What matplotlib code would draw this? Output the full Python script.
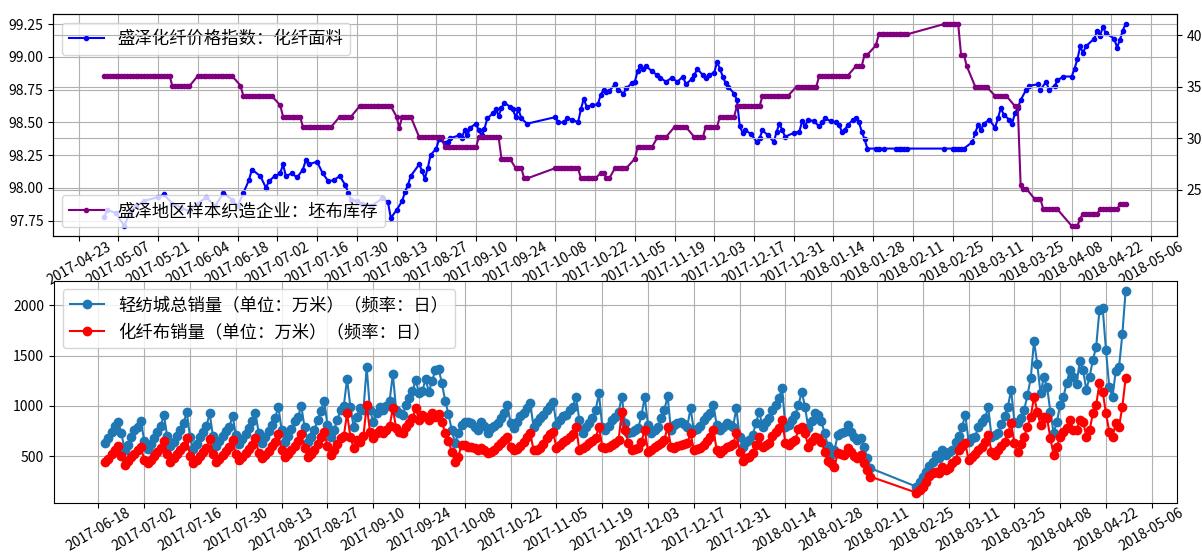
import numpy as np
import pandas as pd
import matplotlib
matplotlib.use("Agg")
import matplotlib.pyplot as plt
import matplotlib.dates as mdates

CJK = ["Noto Sans CJK SC", "DejaVu Sans"]
plt.rcParams["font.family"] = CJK
plt.rcParams["axes.unicode_minus"] = False

# ---------------- 盛泽化纤价格指数：化纤面料 ----------------
price_dates = [
    "2017-05-02", "2017-05-03", "2017-05-06", "2017-05-09", "2017-05-11", "2017-05-13", "2017-05-16",
    "2017-05-21", "2017-05-23", "2017-05-26", "2017-05-29", "2017-06-01", "2017-06-04", "2017-06-07",
    "2017-06-10", "2017-06-13", "2017-06-16", "2017-06-18", "2017-06-20", "2017-06-22", "2017-06-23",
    "2017-06-26", "2017-06-28", "2017-06-29", "2017-07-01", "2017-07-03", "2017-07-04", "2017-07-05",
    "2017-07-07", "2017-07-09", "2017-07-11", "2017-07-12", "2017-07-13", "2017-07-16", "2017-07-18",
    "2017-07-20", "2017-07-22", "2017-07-24", "2017-07-26", "2017-07-27", "2017-07-28", "2017-07-30",
    "2017-08-01", "2017-08-04", "2017-08-08", "2017-08-10", "2017-08-11", "2017-08-13", "2017-08-15",
    "2017-08-16", "2017-08-17", "2017-08-18", "2017-08-21", "2017-08-22", "2017-08-23", "2017-08-24",
    "2017-08-25", "2017-08-27", "2017-08-28", "2017-08-30", "2017-08-31", "2017-09-01", "2017-09-04",
    "2017-09-05", "2017-09-06", "2017-09-07", "2017-09-08", "2017-09-10", "2017-09-11", "2017-09-12",
    "2017-09-13", "2017-09-14", "2017-09-16", "2017-09-17", "2017-09-18", "2017-09-19", "2017-09-20",
    "2017-09-22", "2017-09-23", "2017-09-24", "2017-09-25", "2017-09-26", "2017-09-28", "2017-10-08",
    "2017-10-09", "2017-10-11", "2017-10-12", "2017-10-14", "2017-10-16", "2017-10-17", "2017-10-18",
    "2017-10-19", "2017-10-21", "2017-10-23", "2017-10-24", "2017-10-25", "2017-10-26", "2017-10-27",
    "2017-10-29", "2017-10-30", "2017-11-01", "2017-11-02", "2017-11-04", "2017-11-05", "2017-11-06",
    "2017-11-07", "2017-11-08", "2017-11-09", "2017-11-11", "2017-11-13", "2017-11-14", "2017-11-16",
    "2017-11-18", "2017-11-20", "2017-11-22", "2017-11-23", "2017-11-25", "2017-11-26", "2017-11-27",
    "2017-11-29", "2017-11-30", "2017-12-01", "2017-12-03", "2017-12-04", "2017-12-05", "2017-12-06",
    "2017-12-07", "2017-12-08", "2017-12-10", "2017-12-11", "2017-12-12", "2017-12-13", "2017-12-14",
    "2017-12-16", "2017-12-18", "2017-12-19", "2017-12-20", "2017-12-22", "2017-12-24", "2017-12-25",
    "2017-12-26", "2017-12-27", "2017-12-28", "2017-12-31", "2018-01-02", "2018-01-03", "2018-01-04",
    "2018-01-05", "2018-01-07", "2018-01-09", "2018-01-10", "2018-01-11", "2018-01-13", "2018-01-15",
    "2018-01-16", "2018-01-17", "2018-01-18", "2018-01-19", "2018-01-21", "2018-01-22", "2018-01-23",
    "2018-01-24", "2018-01-25", "2018-01-26", "2018-01-29", "2018-01-30", "2018-02-01", "2018-02-05",
    "2018-02-06", "2018-02-07", "2018-02-08", "2018-02-09", "2018-02-22", "2018-02-25", "2018-02-26",
    "2018-02-27", "2018-02-28", "2018-03-01", "2018-03-04", "2018-03-05", "2018-03-06", "2018-03-07",
    "2018-03-08", "2018-03-10", "2018-03-12", "2018-03-13", "2018-03-14", "2018-03-15", "2018-03-17",
    "2018-03-18", "2018-03-19", "2018-03-20", "2018-03-21", "2018-03-23", "2018-03-24", "2018-03-27",
    "2018-03-28", "2018-03-30", "2018-03-31", "2018-04-02", "2018-04-03", "2018-04-05", "2018-04-08",
    "2018-04-09", "2018-04-10", "2018-04-11", "2018-04-12", "2018-04-13", "2018-04-16", "2018-04-17",
    "2018-04-18", "2018-04-19", "2018-04-20", "2018-04-23", "2018-04-24", "2018-04-25", "2018-04-26",
    "2018-04-27",
]
price_values = [
    97.78, 97.83, 97.81, 97.71, 97.81, 97.86, 97.90,
    97.93, 97.95, 97.88, 97.85, 97.82, 97.88, 97.93,
    97.86, 97.96, 97.91, 97.86, 97.96, 98.06, 98.14,
    98.09, 98.00, 98.05, 98.09, 98.11, 98.18, 98.09,
    98.11, 98.08, 98.14, 98.21, 98.18, 98.20, 98.11,
    98.05, 98.06, 98.09, 98.02, 97.96, 97.91, 97.90,
    97.88, 97.86, 97.92, 97.89, 97.77, 97.83, 97.90,
    97.97, 98.02, 98.09, 98.18, 98.13, 98.07, 98.15,
    98.25, 98.30, 98.37, 98.34, 98.35, 98.38, 98.40,
    98.38, 98.44, 98.40, 98.46, 98.49, 98.44, 98.40,
    98.45, 98.53, 98.57, 98.60, 98.55, 98.61, 98.65,
    98.62, 98.60, 98.54, 98.60, 98.53, 98.49, 98.54,
    98.50, 98.50, 98.53, 98.52, 98.50, 98.60, 98.68,
    98.62, 98.63, 98.64, 98.71, 98.75, 98.73, 98.74,
    98.79, 98.75, 98.72, 98.76, 98.80, 98.81, 98.89,
    98.93, 98.91, 98.93, 98.89, 98.86, 98.84, 98.81,
    98.84, 98.81, 98.85, 98.79, 98.83, 98.86, 98.91,
    98.86, 98.84, 98.86, 98.88, 98.96, 98.91, 98.85,
    98.80, 98.77, 98.72, 98.67, 98.47, 98.42, 98.44,
    98.41, 98.35, 98.38, 98.44, 98.40, 98.35, 98.43,
    98.49, 98.44, 98.39, 98.42, 98.43, 98.51, 98.47,
    98.52, 98.51, 98.47, 98.50, 98.53, 98.51, 98.50,
    98.48, 98.43, 98.44, 98.48, 98.52, 98.53, 98.50,
    98.43, 98.37, 98.30, 98.30, 98.30, 98.30, 98.30,
    98.30, 98.30, 98.30, 98.30, 98.30, 98.30, 98.30,
    98.30, 98.30, 98.30, 98.35, 98.42, 98.48, 98.44,
    98.49, 98.52, 98.46, 98.53, 98.61, 98.56, 98.52,
    98.49, 98.57, 98.61, 98.67, 98.75, 98.78, 98.79,
    98.75, 98.81, 98.75, 98.78, 98.82, 98.85, 98.85,
    98.91, 98.98, 99.08, 99.03, 99.08, 99.14, 99.20,
    99.16, 99.23, 99.18, 99.14, 99.07, 99.13, 99.20,
    99.25,
]

# ---------------- 盛泽地区样本织造企业：坯布库存 (flat runs) ----------------
inv_start = [
    "2017-05-02", "2017-05-26", "2017-06-04", "2017-06-19", "2017-06-20", "2017-07-03", "2017-07-04",
    "2017-07-11", "2017-07-24", "2017-07-31", "2017-08-13", "2017-08-14", "2017-08-15", "2017-08-21",
    "2017-08-30", "2017-09-11", "2017-09-19", "2017-09-24", "2017-09-27", "2017-10-08", "2017-10-17",
    "2017-10-24", "2017-10-26", "2017-10-29", "2017-11-05", "2017-11-06", "2017-11-13", "2017-11-19",
    "2017-11-26", "2017-11-30", "2017-12-05", "2017-12-11", "2017-12-20", "2018-01-01", "2018-01-09",
    "2018-01-22", "2018-01-25", "2018-01-29", "2018-01-30", "2018-02-22", "2018-02-28", "2018-03-02",
    "2018-03-05", "2018-03-12", "2018-03-19", "2018-03-21", "2018-03-22", "2018-03-26", "2018-03-29",
    "2018-04-08", "2018-04-11", "2018-04-12", "2018-04-18", "2018-04-25",
]
inv_end = [
    "2017-05-25", "2017-06-01", "2017-06-16", "2017-06-19", "2017-06-30", "2017-07-03", "2017-07-10",
    "2017-07-21", "2017-07-28", "2017-08-11", "2017-08-13", "2017-08-14", "2017-08-18", "2017-08-29",
    "2017-09-10", "2017-09-18", "2017-09-22", "2017-09-26", "2017-09-28", "2017-10-16", "2017-10-22",
    "2017-10-25", "2017-10-27", "2017-11-02", "2017-11-05", "2017-11-11", "2017-11-16", "2017-11-23",
    "2017-11-29", "2017-12-04", "2017-12-10", "2017-12-19", "2017-12-29", "2018-01-08", "2018-01-19",
    "2018-01-24", "2018-01-26", "2018-01-29", "2018-02-09", "2018-02-27", "2018-03-01", "2018-03-02",
    "2018-03-09", "2018-03-16", "2018-03-20", "2018-03-21", "2018-03-23", "2018-03-28", "2018-04-03",
    "2018-04-10", "2018-04-11", "2018-04-17", "2018-04-24", "2018-04-27",
]
inv_level = [
    36.05, 35.05, 36.05, 35.1, 34.1, 33.2, 32.1,
    31.1, 32.1, 33.1, 32.1, 31.0, 32.1, 30.1,
    29.1, 30.1, 28.0, 27.1, 26.1, 27.1, 26.1,
    26.6, 26.1, 27.1, 28.0, 29.1, 30.1, 31.1,
    30.1, 31.1, 32.1, 33.1, 34.1, 35.0, 36.05,
    37.0, 38.1, 39.0, 40.07, 41.06, 38.1, 37.0,
    35.0, 34.1, 33.1, 25.5, 25.1, 24.1, 23.1,
    21.5, 22.2, 22.7, 23.1, 23.6,
]

# ---------------- 轻纺城日销量 (万米), week rows Sun..Sat ----------------
total_weeks_2017 = [
    [629, 680, 740, 800, 844],                     # from 2017-06-20
    [729, 563, 612, 695, 760, 795, 851],
    [650, 575, 620, 680, 740, 800, 911],
    [700, 600, 640, 700, 760, 830, 937],
    [690, 570, 620, 690, 740, 800, 927],
    [700, 600, 650, 700, 750, 790, 904],
    [710, 620, 670, 720, 780, 850, 927],
    [730, 630, 690, 750, 810, 880, 993],
    [760, 645, 700, 775, 850, 890, 1000],
    [790, 645, 695, 760, 860, 954, 1050],
    [811, 695, 760, 860, 960, 1000, 1271],
    [993, 794, 894, 977, 960, 1385, 960],
    [844, 927, 993, 960, 1000, 1050, 1318],
    [960, 927, 910, 1010, 1080, 1150, 1258],
    [1126, 1150, 1265, 1142, 1250, 1358, 1368],
    [1225, 1050, 920, 760, 629, 729, 811],
    [844, 844, 830, 795, 761, 844, 800],
    [729, 778, 800, 828, 877, 930, 1010],
    [828, 778, 844, 900, 927, 977, 1026],
    [795, 844, 880, 910, 960, 1000, 1043],
    [811, 861, 900, 910, 960, 993, 1092],
    [861, 729, 790, 828, 877, 960, 1126],
    [795, 761, 800, 861, 890, 940, 1092],
    [828, 729, 740, 760, 778, 910, 1086],
    [811, 729, 760, 795, 877, 960, 1099],
    [761, 811, 830, 844, 820, 795, 977],
    [761, 770, 800, 861, 900, 927, 1010],
    [811, 761, 790, 828, 810, 795, 977],
    [695, 596, 640, 662, 712, 828, 944],
    [795, 840, 877, 960, 1010, 1076, 1176],
    [795, 810, 860, 910, 1010, 1142, 993],
    [778, 850, 927, 911, 847, 729, 600],
    [513, 560, 712, 730, 745, 811, 745],
    [690, 662, 679, 596, 480, 381],                # to 2018-02-09
]
fiber_weeks_2017 = [
    [440, 470, 520, 560, 606],
    [500, 414, 450, 490, 520, 560, 590],
    [460, 430, 460, 500, 540, 580, 655],
    [520, 440, 480, 520, 560, 600, 685],
    [500, 430, 460, 500, 540, 580, 669],
    [520, 440, 470, 510, 550, 590, 662],
    [520, 460, 490, 530, 570, 610, 685],
    [530, 480, 510, 550, 600, 640, 718],
    [560, 496, 520, 560, 600, 650, 722],
    [580, 496, 520, 560, 620, 696, 745],
    [600, 513, 560, 620, 680, 700, 927],
    [696, 580, 662, 646, 700, 1010, 745],
    [680, 729, 762, 730, 760, 800, 977],
    [778, 745, 729, 795, 830, 880, 977],
    [861, 910, 894, 860, 927, 890, 920],
    [844, 729, 655, 546, 446, 496, 612],
    [612, 596, 596, 580, 563, 580, 563],
    [530, 545, 560, 600, 629, 660, 695],
    [596, 563, 570, 600, 646, 690, 729],
    [563, 563, 580, 620, 679, 720, 745],
    [579, 612, 640, 662, 695, 720, 795],
    [563, 580, 600, 629, 650, 679, 795],
    [596, 580, 596, 610, 629, 660, 943],
    [761, 629, 563, 570, 580, 646, 765],
    [546, 560, 596, 610, 629, 662, 795],
    [596, 580, 600, 612, 620, 630, 729],
    [563, 570, 580, 610, 650, 695, 761],
    [563, 530, 560, 596, 600, 620, 729],
    [546, 457, 480, 496, 530, 612, 695],
    [596, 610, 629, 700, 745, 778, 861],
    [629, 612, 640, 662, 768, 795, 729],
    [596, 650, 696, 679, 646, 546, 450],
    [430, 397, 530, 520, 513, 579, 546],
    [500, 480, 513, 430, 364, 297],
]
# after the Spring Festival break: 2018-02-23 .. 2018-04-28
total_2018 = [
    198, 248, 298, 347, 400, 446,
    513, 480, 563, 513, 540, 563, 646, 700, 795, 911,
    646, 680, 696, 795, 844, 880, 987, 696, 710, 729,
    821, 900, 993, 1159, 844, 827, 880, 960, 1109, 1275, 1649,
    1414, 1126, 1285, 1186, 944, 729, 844, 1010, 1093, 1232,
    1358, 1292, 1215, 1451, 1358, 1159, 1292, 1457, 1589, 1954,
    1971, 1557, 1186, 1093, 1351, 1391, 1713, 2146,
]
fiber_2018 = [
    138, 165, 198, 248, 300, 331,
    347, 331, 397, 364, 380, 430, 463, 563, 600, 629,
    463, 496, 520, 563, 596, 640, 712, 546, 513, 563,
    600, 646, 729, 828, 629, 546, 620, 696, 795, 894, 1093,
    944, 811, 894, 877, 679, 513, 596, 696, 740, 778,
    861, 761, 761, 861, 844, 696, 761, 927, 1010, 1225,
    1142, 927, 745, 696, 828, 795, 993, 1275,
]

price_x = pd.to_datetime(price_dates)
inv_x = []
inv_y = []
for s, e, v in zip(inv_start, inv_end, inv_level):
    days = pd.date_range(s, e, freq="D")
    inv_x.extend(days)
    inv_y.extend([v] * len(days))

total_vals = [v for wk in total_weeks_2017 for v in wk] + total_2018
fiber_vals = [v for wk in fiber_weeks_2017 for v in wk] + fiber_2018
sales_x = pd.date_range("2017-06-20", "2018-02-09", freq="D").append(
    pd.date_range("2018-02-23", "2018-04-28", freq="D"))

fig = plt.figure(figsize=(12.02, 5.58), dpi=100)
ax = fig.add_axes([0.0443, 0.5771, 0.9346, 0.3978])
ax2 = ax.twinx()
axb = fig.add_axes([0.0449, 0.0991, 0.9340, 0.3978])

leg_font = {"family": CJK, "size": 12.5}

ax.plot(price_x, price_values, color="blue", marker=".", label="盛泽化纤价格指数：化纤面料")
ax2.plot(inv_x, inv_y, color="purple", marker=".", label="盛泽地区样本织造企业：坯布库存")
ax.grid(True)
ax2.grid(True)
ax.legend(loc="upper left", prop=leg_font)
ax2.legend(loc="lower left", prop=leg_font)

top_ticks = pd.date_range("2017-04-23", "2018-05-06", freq="14D")
ax.set_xticks(top_ticks)
ax.xaxis.set_major_formatter(mdates.DateFormatter("%Y-%m-%d"))

axb.plot(sales_x, total_vals, color="#1f77b4", marker="o",
         label="轻纺城总销量（单位：万米）（频率：日）")
axb.plot(sales_x, fiber_vals, color="red", marker="o",
         label="化纤布销量（单位：万米）（频率：日）")
axb.grid(True)
axb.legend(loc="upper left", prop=leg_font)
bot_ticks = pd.date_range("2017-06-18", "2018-05-06", freq="14D")
axb.set_xticks(bot_ticks)
axb.xaxis.set_major_formatter(mdates.DateFormatter("%Y-%m-%d"))

for a in (ax, axb):
    a.tick_params(axis="x", pad=-1)
    for lab in a.get_xticklabels():
        lab.set_rotation(30)
        lab.set_ha("center")

fig.savefig("out.png", dpi=100)
